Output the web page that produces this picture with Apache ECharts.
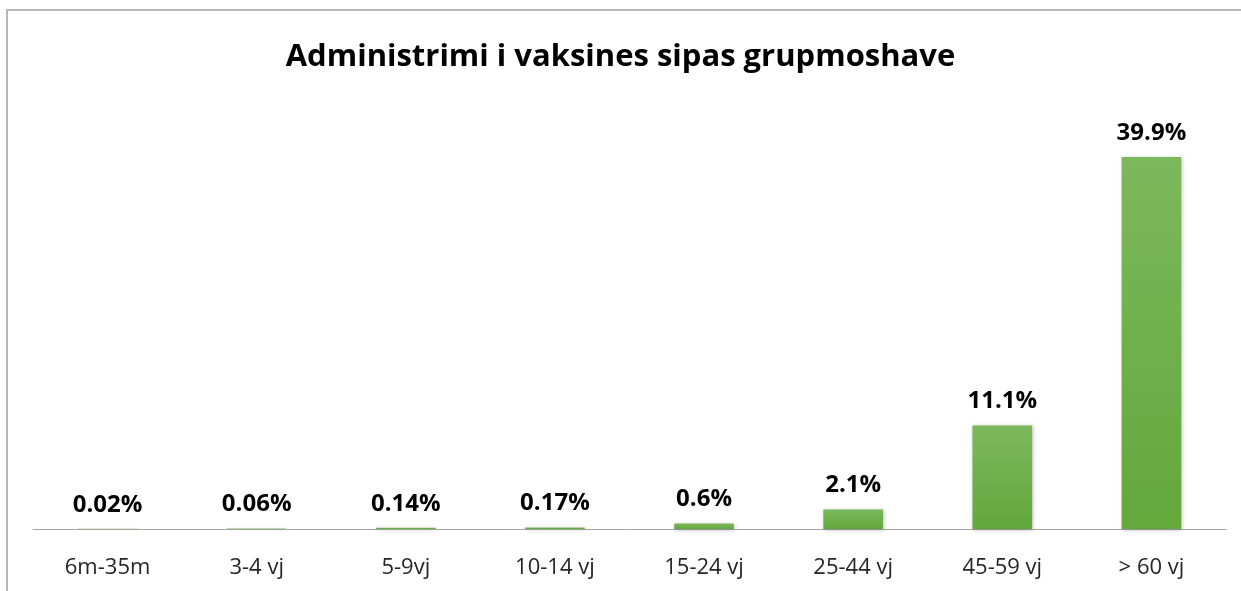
<!DOCTYPE html>
<html>
<head>
<meta charset="utf-8">
<script src="https://cdn.jsdelivr.net/npm/echarts@6/dist/echarts.min.js"></script>
<style>
  html, body { margin: 0; padding: 0; background: #fff; }
  #frame { position: absolute; left: 6px; top: 9px; width: 1235px; height: 582px;
           border-top: 2px solid #b8b8b8; border-left: 2px solid #b8b8b8; box-sizing: border-box; }
  #chart { position: absolute; left: 0; top: 0; width: 1241px; height: 591px; }
</style>
</head>
<body>
<div id="frame"></div>
<div id="chart"></div>
<script>
// grupmoshat dhe perqindjet
const categories = ['6m-35m', '3-4 vj', '5-9vj', '10-14 vj', '15-24 vj', '25-44 vj', '45-59 vj', '> 60 vj']
const values = [0.02, 0.06, 0.14, 0.17, 0.6, 2.1, 11.1, 39.9]
const labels = ['0.02%', '0.06%', '0.14%', '0.17%', '0.6%', '2.1%', '11.1%', '39.9%']

const font = '"Open Sans", "Noto Sans", sans-serif'

let myChart = echarts.init(document.getElementById('chart'))
myChart.setOption({
  animation: false,
  title: {
    text: 'Administrimi i vaksines sipas grupmoshave',
    left: 'center',
    top: 37,
    textStyle: { fontFamily: font, fontSize: 31, fontWeight: 'bold', color: '#000' }
  },
  grid: { left: 33, right: 15, top: 156, bottom: 62 },
  xAxis: {
    type: 'category',
    data: categories,
    axisLine: { lineStyle: { color: '#a6a6a6', width: 1 } },
    axisTick: { show: false },
    axisLabel: { fontFamily: font, fontSize: 22, color: '#262626', margin: 28 }
  },
  yAxis: {
    type: 'value',
    min: 0,
    max: 40,
    show: false,
    splitLine: { show: false }
  },
  series: [{
    type: 'bar',
    data: values,
    barWidth: '40%',
    itemStyle: {
      color: new echarts.graphic.LinearGradient(0, 0, 0, 1, [
        { offset: 0, color: '#7cb85c' },
        { offset: 1, color: '#62a83b' }
      ]),
      shadowColor: 'rgba(0,0,0,0.25)',
      shadowBlur: 4,
      shadowOffsetX: 1,
      shadowOffsetY: 1
    },
    label: {
      show: true,
      position: 'top',
      distance: 12,
      formatter: p => labels[p.dataIndex],
      fontFamily: font,
      fontSize: 24,
      fontWeight: 'bold',
      color: '#000'
    }
  }]
})
</script>
</body>
</html>
